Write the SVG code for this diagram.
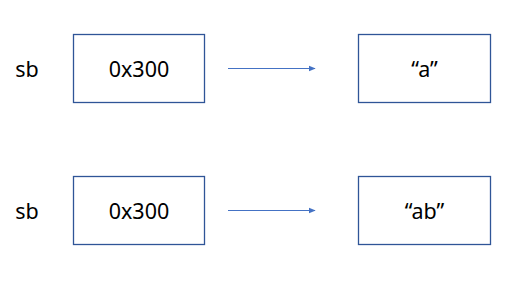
<svg xmlns="http://www.w3.org/2000/svg" width="519" height="291" viewBox="0 0 519 291">
<style>
.box{fill:#fff;stroke:#2F5597;stroke-width:1.3}
.t{font-family:"Noto Sans","Open Sans",sans-serif;font-size:21.5px;fill:#000;text-anchor:middle}
.c{stroke:#4472C4;stroke-width:1.2;fill:none}
</style>
<defs>
<marker id="ah" viewBox="0 0 10 10" refX="9" refY="5" markerWidth="7" markerHeight="7" markerUnits="userSpaceOnUse" orient="auto">
<path d="M0,1 L10,5 L0,9 z" fill="#4472C4"/>
</marker>
</defs>
<rect width="519" height="291" fill="#fff"/>
<g id="label1"><text class="t" x="27" y="77">sb</text></g>
<g id="ref1"><rect class="box" x="73.5" y="34.5" width="131" height="68"/><text class="t" x="139" y="77">0x300</text></g>
<g id="str1"><rect class="box" x="358.5" y="34.5" width="132" height="68"/><text class="t" x="424.5" y="77">“a”</text></g>
<g id="label2"><text class="t" x="27" y="219">sb</text></g>
<g id="ref2"><rect class="box" x="73.5" y="176.5" width="131" height="68"/><text class="t" x="139" y="219">0x300</text></g>
<g id="str2"><rect class="box" x="358.5" y="176.5" width="132" height="68"/><text class="t" x="424.5" y="219">“ab”</text></g>
<g id="connectors">
<line class="c" x1="228" y1="68.5" x2="315" y2="68.5" marker-end="url(#ah)"/>
<line class="c" x1="228" y1="210.5" x2="315" y2="210.5" marker-end="url(#ah)"/>
</g>
</svg>
